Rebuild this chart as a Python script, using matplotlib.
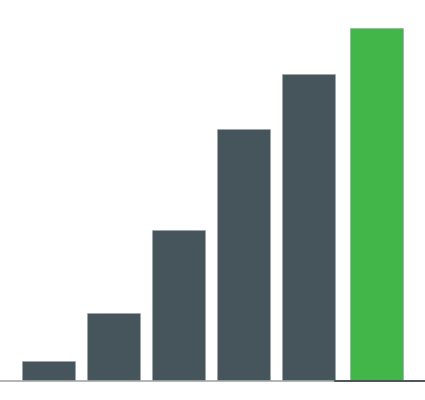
import matplotlib
matplotlib.use("Agg")
import matplotlib.pyplot as plt

categories = ["A", "B", "C", "D", "E", "F"]
values = [5.7, 19.3, 42.8, 71.4, 87.0, 100.0]
colors = ["#46555c"] * 5 + ["#43b649"]

fig = plt.figure(figsize=(4.25, 4.0), dpi=100)
ax = fig.add_axes([0, 0.0475, 1, 0.9525])

# the highlighted last bar sits a little further out
x = [0, 1, 2, 3, 4, 5.056]
w = 0.817
ax.bar(x, values, width=w, color=colors, edgecolor="#9aa3a6", linewidth=0.4, zorder=2)

ax.set_xlim(-0.7525, 5.801)
ax.set_ylim(0, 107.9)
for s in ["top", "right", "left"]:
    ax.spines[s].set_visible(False)
ax.spines["bottom"].set_color("#a3a8aa")
ax.spines["bottom"].set_linewidth(1.2)
ax.plot([4 + w / 2, 5.801], [0, 0], color="#3a4448", linewidth=1.2, clip_on=False, zorder=3)
ax.set_xticks([])
ax.set_yticks([])

fig.savefig("out.png", dpi=100)
